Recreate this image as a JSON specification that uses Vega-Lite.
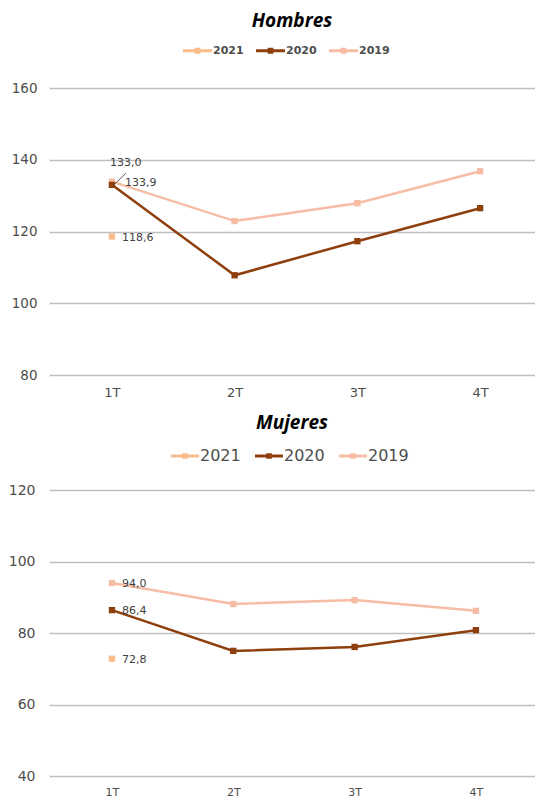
{
  "$schema": "https://vega.github.io/schema/vega-lite/v6.json",
  "padding": {"left": 8, "top": 12, "right": 0, "bottom": 0},
  "background": "white",
  "config": {"view": {"stroke": null}, "font": "DejaVu Sans", "concat": {"spacing": 15}},
  "datasets": {
    "hombres": [
      {"serie": "2019", "trimestre": "1T", "valor": 133.9, "etiqueta": "133,9"},
      {"serie": "2019", "trimestre": "2T", "valor": 122.9},
      {"serie": "2019", "trimestre": "3T", "valor": 127.9},
      {"serie": "2019", "trimestre": "4T", "valor": 136.8},
      {"serie": "2020", "trimestre": "1T", "valor": 133.0, "etiqueta": "133,0"},
      {"serie": "2020", "trimestre": "2T", "valor": 107.8},
      {"serie": "2020", "trimestre": "3T", "valor": 117.3},
      {"serie": "2020", "trimestre": "4T", "valor": 126.5},
      {"serie": "2021", "trimestre": "1T", "valor": 118.6, "etiqueta": "118,6"}
    ],
    "mujeres": [
      {"serie": "2019", "trimestre": "1T", "valor": 94.0, "etiqueta": "94,0"},
      {"serie": "2019", "trimestre": "2T", "valor": 88.1},
      {"serie": "2019", "trimestre": "3T", "valor": 89.2},
      {"serie": "2019", "trimestre": "4T", "valor": 86.2},
      {"serie": "2020", "trimestre": "1T", "valor": 86.4, "etiqueta": "86,4"},
      {"serie": "2020", "trimestre": "2T", "valor": 75.0},
      {"serie": "2020", "trimestre": "3T", "valor": 76.1},
      {"serie": "2020", "trimestre": "4T", "valor": 80.8},
      {"serie": "2021", "trimestre": "1T", "valor": 72.8, "etiqueta": "72,8"}
    ]
  },
  "vconcat": [
    {
      "width": 486,
      "height": 287,
      "data": {"name": "hombres"},
      "title": {"text": "Hombres", "font": "Open Sans", "fontSize": 19, "fontStyle": "italic", "fontWeight": "bold", "color": "black", "offset": 5},
      "encoding": {
        "x": {"field": "trimestre", "type": "ordinal", "scale": {"type": "point", "padding": 0.48, "align": 0.534},
          "axis": {"title": null, "domain": false, "ticks": false, "grid": false, "labelAngle": 0, "labelFontSize": 13, "labelColor": "#4d4d4d", "labelPadding": 11}},
        "y": {"field": "valor", "type": "quantitative", "scale": {"domain": [80, 160]},
          "axis": {"title": null, "domain": false, "ticks": false, "values": [80, 100, 120, 140, 160], "labelFontSize": 13.5, "labelColor": "#4d4d4d", "labelPadding": 12, "gridColor": "#bfbfbf", "gridWidth": 1.5}},
        "color": {"field": "serie", "type": "nominal", "scale": {"domain": ["2021", "2020", "2019"], "range": ["#F9BD8B", "#8E3F0E", "#F6BDA4"]},
          "legend": {"orient": "none", "legendX": 134, "legendY": -52, "title": null, "direction": "horizontal", "symbolType": "M-1,-0.1H1V0.1H-1Z M-0.2,-0.2H0.2V0.2H-0.2Z", "symbolSize": 841, "symbolStrokeWidth": 0, "symbolOpacity": 1, "labelFontSize": 11, "labelFontWeight": "bold", "labelColor": "#4d4d4d", "columnPadding": 12, "labelOffset": 1}}
      },
      "layer": [
        {"mark": {"type": "line", "strokeWidth": 2.5}},
        {"mark": {"type": "point", "shape": "square", "filled": true, "size": 40, "opacity": 1}},
        {"transform": [{"filter": "datum.serie == '2019' && datum.etiqueta != null"}],
          "mark": {"type": "text", "align": "left", "baseline": "middle", "dx": 13, "dy": 1, "fontSize": 11},
          "encoding": {"text": {"field": "etiqueta"}, "color": {"value": "#404040"}}},
        {"transform": [{"filter": "datum.serie == '2021' && datum.etiqueta != null"}],
          "mark": {"type": "text", "align": "left", "baseline": "middle", "dx": 10, "dy": 1, "fontSize": 11},
          "encoding": {"text": {"field": "etiqueta"}, "color": {"value": "#404040"}}},
        {"transform": [{"filter": "datum.serie == '2020' && datum.etiqueta != null"}],
          "mark": {"type": "text", "align": "left", "baseline": "middle", "dx": -2, "dy": -22, "fontSize": 11},
          "encoding": {"text": {"field": "etiqueta"}, "color": {"value": "#404040"}}},
        {"transform": [{"filter": "datum.serie == '2020' && datum.etiqueta != null"}],
          "mark": {"type": "rule", "xOffset": 2, "x2Offset": 14, "strokeWidth": 1},
          "encoding": {"x2": {"field": "trimestre"}, "y2": {"datum": 136.3}, "color": {"value": "#595959"}}}
      ]
    },
    {
      "width": 486,
      "height": 286,
      "data": {"name": "mujeres"},
      "title": {"text": "Mujeres", "font": "Open Sans", "fontSize": 19, "fontStyle": "italic", "fontWeight": "bold", "color": "black", "offset": 9},
      "encoding": {
        "x": {"field": "trimestre", "type": "ordinal", "scale": {"type": "point", "padding": 0.503, "align": 0.516},
          "axis": {"title": null, "domain": false, "ticks": false, "grid": false, "labelAngle": 0, "labelFontSize": 11, "labelColor": "#4d4d4d", "labelPadding": 10}},
        "y": {"field": "valor", "type": "quantitative", "scale": {"domain": [40, 120]},
          "axis": {"title": null, "domain": false, "ticks": false, "values": [40, 60, 80, 100, 120], "labelFontSize": 14, "labelColor": "#4d4d4d", "labelPadding": 14, "gridColor": "#bfbfbf", "gridWidth": 1.5}},
        "color": {"field": "serie", "type": "nominal", "scale": {"domain": ["2021", "2020", "2019"], "range": ["#F9BD8B", "#8E3F0E", "#F6BDA4"]},
          "legend": {"orient": "none", "legendX": 122, "legendY": -48, "title": null, "direction": "horizontal", "symbolType": "M-1,-0.1H1V0.1H-1Z M-0.2,-0.2H0.2V0.2H-0.2Z", "symbolSize": 784, "symbolStrokeWidth": 0, "symbolOpacity": 1, "labelFontSize": 16, "labelColor": "#4d4d4d", "columnPadding": 14, "labelOffset": 1}}
      },
      "layer": [
        {"mark": {"type": "line", "strokeWidth": 2.5}},
        {"mark": {"type": "point", "shape": "square", "filled": true, "size": 40, "opacity": 1}},
        {"transform": [{"filter": "datum.etiqueta != null"}],
          "mark": {"type": "text", "align": "left", "baseline": "middle", "dx": 10, "dy": 1, "fontSize": 11},
          "encoding": {"text": {"field": "etiqueta"}, "color": {"value": "#404040"}}}
      ]
    }
  ],
  "resolve": {"scale": {"x": "independent", "y": "independent", "color": "independent"}, "legend": {"color": "independent"}}
}
